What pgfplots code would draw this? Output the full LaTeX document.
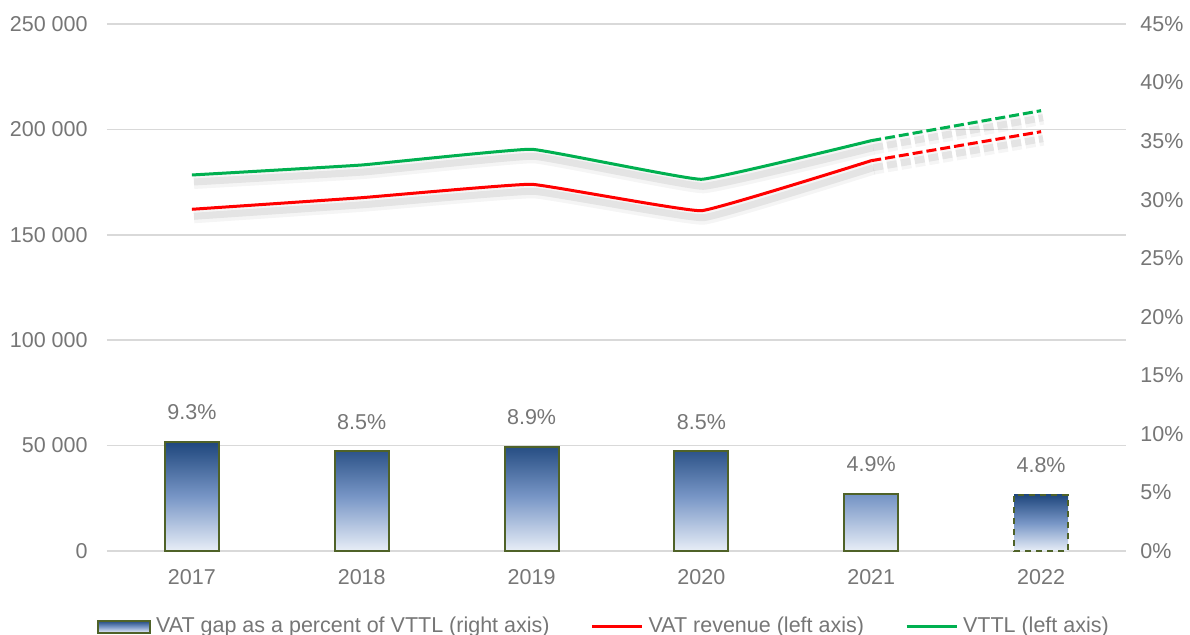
\documentclass[border=0pt]{standalone}
\usepackage{fontspec}
\setmainfont{Liberation Sans}
\usepackage{pgfplots}
\pgfplotsset{compat=1.18}
\definecolor{txtgray}{RGB}{118,118,118}
\definecolor{gridgray}{RGB}{217,217,217}
\definecolor{barborder}{RGB}{79,98,40}
\definecolor{bartop}{RGB}{31,71,125}
\definecolor{barmid}{RGB}{120,150,198}
\definecolor{barbot}{RGB}{232,238,247}
\definecolor{vatred}{RGB}{255,0,0}
\definecolor{vttlgreen}{RGB}{0,176,80}
\newcommand\fs{\fontsize{10.75}{12.9}\selectfont}
\pgfplotsset{
  shA/.style={forget plot, smooth, tension=0.15, draw=black, opacity=0.04, line width=7pt, xshift=1pt, yshift=-3.5pt},
  shB/.style={forget plot, smooth, tension=0.15, draw=black, opacity=0.07, line width=3.5pt, xshift=1pt, yshift=-3.5pt},
  lineS/.style={forget plot, smooth, tension=0.15, line width=1.5pt},
  lineD/.style={forget plot, line width=1.5pt, dash pattern=on 5pt off 2pt},
}
\begin{document}
\begin{tikzpicture}
% ---------- left axis: grid + lines ----------
\begin{axis}[name=ax, at={(0,0)}, anchor=south west,
  width=509.5pt, height=263.5pt, scale only axis,
  xmin=-0.5, xmax=5.5, ymin=0, ymax=250000,
  xtick={0,1,2,3,4,5}, xticklabels={2017,2018,2019,2020,2021,2022},
  ytick={0,50000,100000,150000,200000,250000},
  yticklabels={0,50 000,100 000,150 000,200 000,250 000},
  scaled y ticks=false,
  ymajorgrids, major grid style={draw=gridgray, line width=0.75pt},
  axis line style={draw=none}, major tick length=0pt,
  xtick pos=bottom, ytick pos=left,
  tick label style={font=\fs, text=txtgray, inner sep=0pt},
  xticklabel style={anchor=north, yshift=-9pt},
  yticklabel style={anchor=east, xshift=-9.5pt},
  /pgf/number format/assume math mode=true,
  clip=false,
]
% shadows
\addplot[shA] coordinates {(0,162100)(1,167600)(2,173960)(3,161440)(4,185160)};
\addplot[shB] coordinates {(0,162100)(1,167600)(2,173960)(3,161440)(4,185160)};
\addplot[shA, dash pattern=on 5pt off 2pt, sharp plot] coordinates {(4,185160)(5,198920)};
\addplot[shB, dash pattern=on 5pt off 2pt, sharp plot] coordinates {(4,185160)(5,198920)};
\addplot[shA] coordinates {(0,178370)(1,183110)(2,190570)(3,176330)(4,194650)};
\addplot[shB] coordinates {(0,178370)(1,183110)(2,190570)(3,176330)(4,194650)};
\addplot[shA, dash pattern=on 5pt off 2pt, sharp plot] coordinates {(4,194650)(5,208880)};
\addplot[shB, dash pattern=on 5pt off 2pt, sharp plot] coordinates {(4,194650)(5,208880)};
% VAT revenue
\addplot[lineS, draw=vatred] coordinates {(0,162100)(1,167600)(2,173960)(3,161440)(4,185160)};
\addplot[lineD, draw=vatred] coordinates {(4,185160)(5,198920)};
% VTTL
\addplot[lineS, draw=vttlgreen] coordinates {(0,178370)(1,183110)(2,190570)(3,176330)(4,194650)};
\addplot[lineD, draw=vttlgreen] coordinates {(4,194650)(5,208880)};
\end{axis}
% ---------- right axis: bars + legend ----------
\begin{axis}[name=rax, at={(0,0)}, anchor=south west,
  width=509.5pt, height=263.5pt, scale only axis,
  xmin=-0.5, xmax=5.5, ymin=0, ymax=45,
  hide x axis, axis y line*=right,
  axis line style={draw=none}, major tick length=0pt,
  ytick={0,5,10,15,20,25,30,35,40,45},
  yticklabels={0\%,5\%,10\%,15\%,20\%,25\%,30\%,35\%,40\%,45\%},
  tick label style={font=\fs, text=txtgray, inner sep=0pt},
  yticklabel style={anchor=west, xshift=7pt},
  /pgf/number format/assume math mode=true,
  clip=false,
  nodes near coords={\pgfmathprintnumber[fixed,fixed zerofill,precision=1]{\pgfplotspointmeta}\%},
  every node near coord/.append style={font=\fs, text=txtgray, inner sep=0pt, anchor=south, yshift=10.5pt},
  legend style={at={(0.4867,-0.1435)}, anchor=center, draw=none, fill=none,
    font=\fs, text=txtgray, legend columns=3, legend cell align=left,
    nodes={inner sep=0pt},
    /tikz/every odd column/.append style={column sep=2.5pt},
    /tikz/every even column/.append style={column sep=20.5pt}},
]
\addplot[forget plot, ybar, bar width=27pt, bar shift=0pt, draw=barborder, line width=1pt,
  top color=bartop, bottom color=barbot, middle color=barmid]
  coordinates {(0,9.3)(1,8.5)(2,8.9)(3,8.5)(4,4.9)};
\addplot[forget plot, ybar, bar width=27pt, bar shift=0pt, draw=barborder, line width=1pt,
  dash pattern=on 3pt off 2.5pt,
  top color=bartop, bottom color=barbot, middle color=barmid]
  coordinates {(5,4.8)};
\addlegendimage{legend image code/.code={\draw[draw=barborder, line width=1pt, top color=bartop, bottom color=barbot, middle color=barmid] (0pt,-3pt) rectangle (26pt,3pt);}}
\addlegendimage{legend image code/.code={\draw[draw=vatred, line width=1.5pt] (0pt,0pt) -- (25pt,0pt);}}
\addlegendimage{legend image code/.code={\draw[draw=vttlgreen, line width=1.5pt] (0pt,0pt) -- (25pt,0pt);}}
\legend{VAT gap as a percent of VTTL (right axis), VAT revenue (left axis), VTTL (left axis)}
\end{axis}
\pgfresetboundingbox
\path ([shift={(-53.5pt,-42pt)}]ax.south west) rectangle ([shift={(541.5pt,275.5pt)}]ax.south west);
\end{tikzpicture}
\end{document}
